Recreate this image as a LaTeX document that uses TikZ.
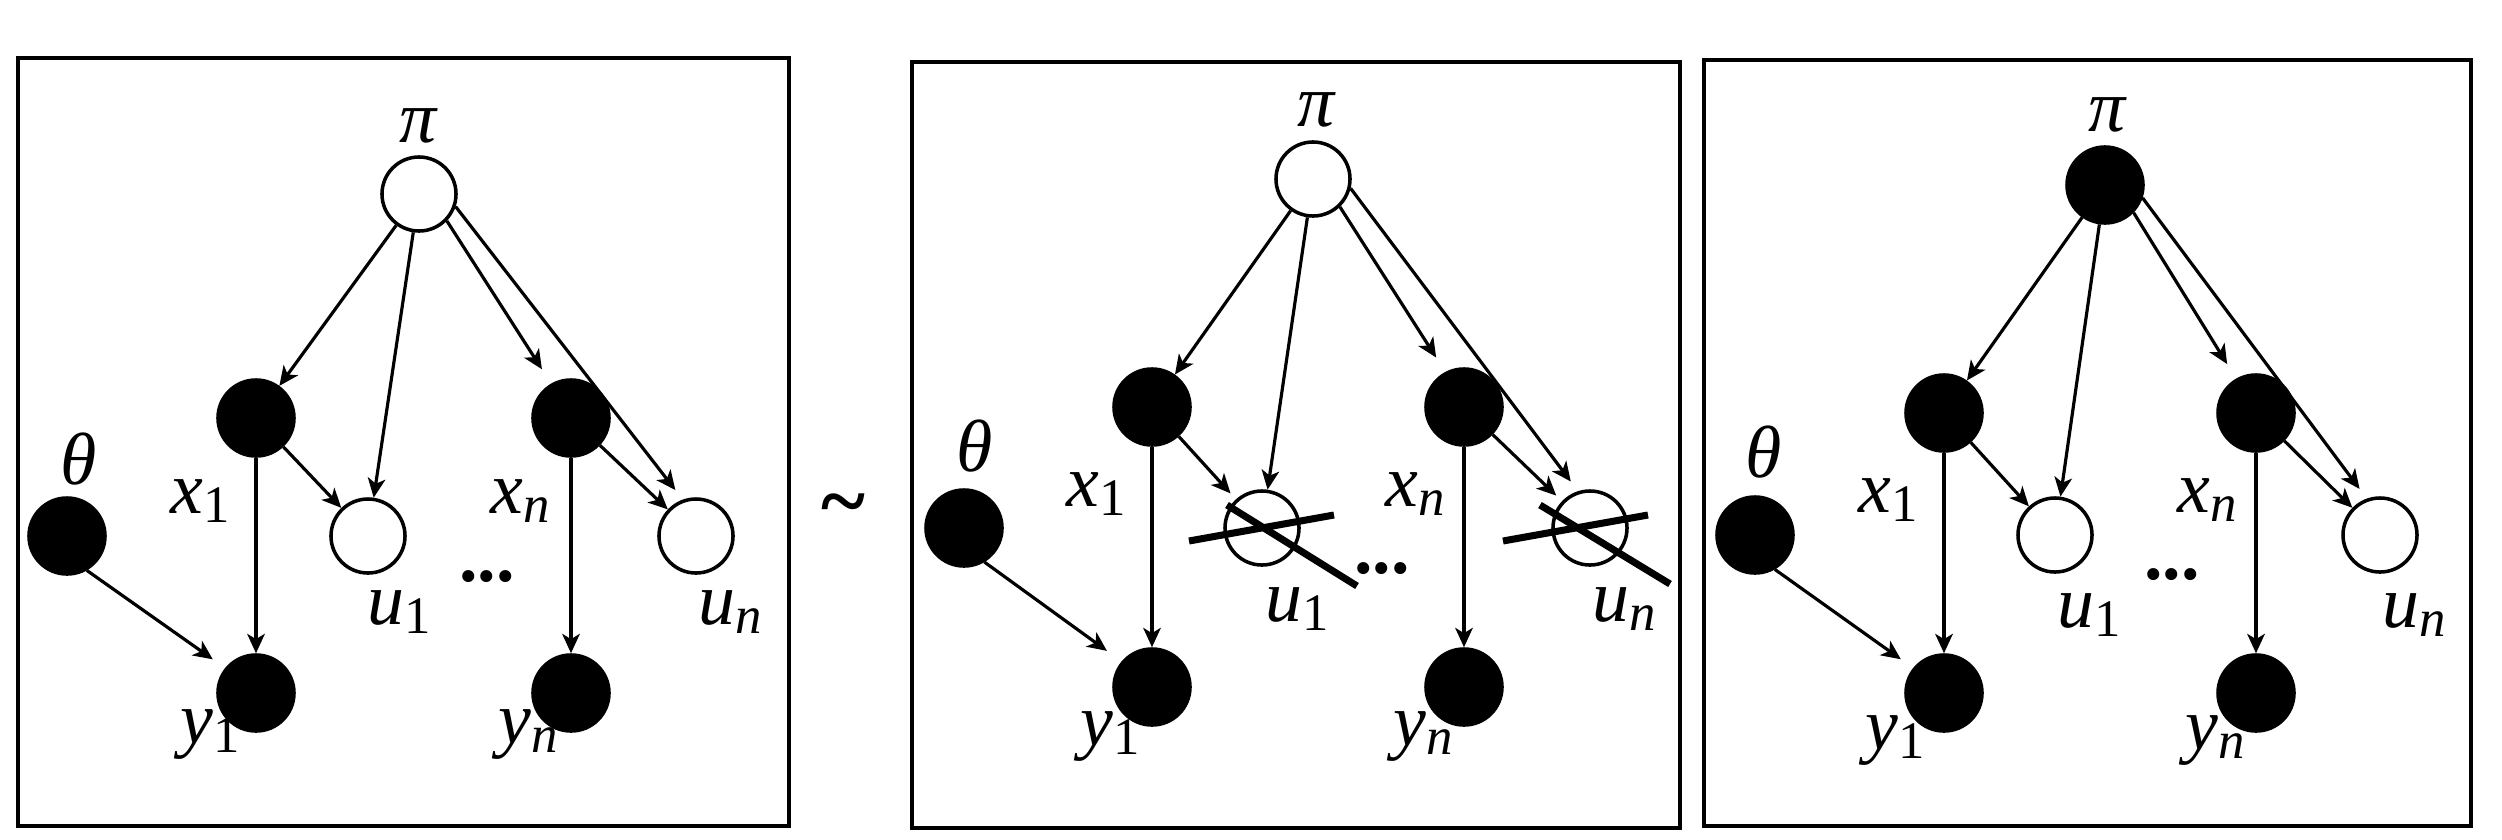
\documentclass[tikz,border=0pt]{standalone}
\usepackage{fontspec}
\setmainfont{Liberation Serif}
\usepackage{tikz}
\usetikzlibrary{arrows.meta}

\newcommand{\vsub}[2]{\textit{#1}\raisebox{-0.12em}{\fontsize{15}{15}\selectfont#2}}

\tikzset{
  obs/.style={circle,draw,fill=black,line width=1pt,minimum size=0.76cm,inner sep=0pt},
  hid/.style={circle,draw,fill=white,line width=1pt,minimum size=0.74cm,inner sep=0pt},
  arr/.style={-{Stealth[length=5.5pt,width=5pt,inset=1.5pt]},line width=0.9pt},
  panel/.style={line width=1.1pt},
  strike/.style={line width=2pt},
  lab/.style={font=\fontsize{21}{24}\selectfont,inner sep=0pt}
}

\begin{document}
\begin{tikzpicture}[x=0.01cm,y=-0.01cm]
\useasboundingbox (0,0) rectangle (2502,839);

% left panel
\draw[panel] (18,58) rectangle (789,826);
\node[hid] (piA) at (419,194) {};
\node[obs] (x1A) at (256,418) {};
\node[obs] (xnA) at (571,418) {};
\node[obs] (thA) at (67,536) {};
\node[hid] (u1A) at (368,536) {};
\node[hid] (unA) at (696,536) {};
\node[obs] (y1A) at (256,693) {};
\node[obs] (ynA) at (571,693) {};
\draw[arr] (piA) -- (x1A);
\draw[arr] (piA) -- (u1A);
\draw[arr,shorten >=0.17cm] (piA.-44) -- (xnA.120);
\draw[arr,shorten >=0.12cm] (piA.-19) -- (unA.110);
\draw[arr] (x1A) -- (u1A);
\draw[arr] (xnA) -- (unA);
\draw[arr] (x1A) -- (y1A);
\draw[arr] (xnA) -- (ynA);
\draw[arr,shorten >=0.15cm] (thA.-60) -- (y1A.141);
\node[lab] (lpiA) at (419,126) {\textit{π}};
\node[lab] (lthA) at (79,459) {\textit{θ}};
\node[lab] (lx1A) at (200,501) {\vsub{x}{1}};
\node[lab] (lxnA) at (520,501) {\vsub{x}{\textit{n}}};
\node[lab] (lu1A) at (399,612) {\vsub{u}{1}};
\node[lab] (lunA) at (730,612) {\vsub{u}{\textit{n}}};
\node[lab] (ly1A) at (210,735) {\vsub{y}{1}};
\node[lab] (lynA) at (528,735) {\vsub{y}{\textit{n}}};
\node[lab] (dotsA) at (487,577) {\textbf{...}};

\node[lab,font=\fontsize{24}{24}\selectfont\bfseries] (sim) at (843,512) {\textasciitilde};

% middle panel
\draw[panel] (912,62) rectangle (1680,828);
\node[hid] (piB) at (1313,179) {};
\node[obs] (x1B) at (1152,407) {};
\node[obs] (xnB) at (1464,407) {};
\node[obs] (thB) at (964,528) {};
\node[hid] (u1B) at (1262,528) {};
\node[hid] (unB) at (1590,528) {};
\node[obs] (y1B) at (1152,687) {};
\node[obs] (ynB) at (1464,687) {};
\draw[arr] (piB) -- (x1B);
\draw[arr] (piB) -- (u1B);
\draw[arr,shorten >=0.17cm] (piB.-46) -- (xnB.118);
\draw[arr,shorten >=0.12cm] (piB.-14) -- (unB.108);
\draw[arr,shorten >=0.08cm] (x1B) -- (u1B);
\draw[arr,shorten >=0.08cm] (xnB) -- (unB);
\draw[arr] (x1B) -- (y1B);
\draw[arr] (xnB) -- (ynB);
\draw[arr,shorten >=0.18cm] (thB.-59) -- (y1B.140);
\node[lab] (lpiB) at (1317,110) {\textit{π}};
\node[lab] (lthB) at (975,446) {\textit{θ}};
\node[lab] (lx1B) at (1096,494) {\vsub{x}{1}};
\node[lab] (lxnB) at (1415,494) {\vsub{x}{\textit{n}}};
\node[lab] (lu1B) at (1297,609) {\vsub{u}{1}};
\node[lab] (lunB) at (1624,609) {\vsub{u}{\textit{n}}};
\node[lab] (ly1B) at (1110,737) {\vsub{y}{1}};
\node[lab] (lynB) at (1423,737) {\vsub{y}{\textit{n}}};
\node[lab] (dotsB) at (1382,569) {\textbf{...}};
\draw[strike] ([shift={(-73,13)}]u1B.center) -- ([shift={(72,-13)}]u1B.center);
\draw[strike] ([shift={(-35,-23)}]u1B.center) -- ([shift={(95,58)}]u1B.center);
\draw[strike] ([shift={(-87,13)}]unB.center) -- ([shift={(58,-13)}]unB.center);
\draw[strike] ([shift={(-50,-23)}]unB.center) -- ([shift={(80,56)}]unB.center);

% right panel
\draw[panel] (1704,60) rectangle (2471,826);
\node[obs] (piC) at (2105,185) {};
\node[obs] (x1C) at (1944,413) {};
\node[obs] (xnC) at (2256,413) {};
\node[obs] (thC) at (1755,535) {};
\node[hid] (u1C) at (2055,535) {};
\node[hid] (unC) at (2380,535) {};
\node[obs] (y1C) at (1944,693) {};
\node[obs] (ynC) at (2256,693) {};
\draw[arr] (piC) -- (x1C);
\draw[arr] (piC) -- (u1C);
\draw[arr,shorten >=0.17cm] (piC.-44) -- (xnC.120);
\draw[arr,shorten >=0.12cm] (piC.-19) -- (unC.110);
\draw[arr] (x1C) -- (u1C);
\draw[arr] (xnC) -- (unC);
\draw[arr] (x1C) -- (y1C);
\draw[arr] (xnC) -- (ynC);
\draw[arr,shorten >=0.15cm] (thC.-60) -- (y1C.141);
\node[lab] (lpiC) at (2108,115) {\textit{π}};
\node[lab] (lthC) at (1764,452) {\textit{θ}};
\node[lab] (lx1C) at (1888,500) {\vsub{x}{1}};
\node[lab] (lxnC) at (2207,500) {\vsub{x}{\textit{n}}};
\node[lab] (lu1C) at (2089,615) {\vsub{u}{1}};
\node[lab] (lunC) at (2414,615) {\vsub{u}{\textit{n}}};
\node[lab] (ly1C) at (1895,741) {\vsub{y}{1}};
\node[lab] (lynC) at (2215,741) {\vsub{y}{\textit{n}}};
\node[lab] (dotsC) at (2172,575) {\textbf{...}};

\end{tikzpicture}
\end{document}
